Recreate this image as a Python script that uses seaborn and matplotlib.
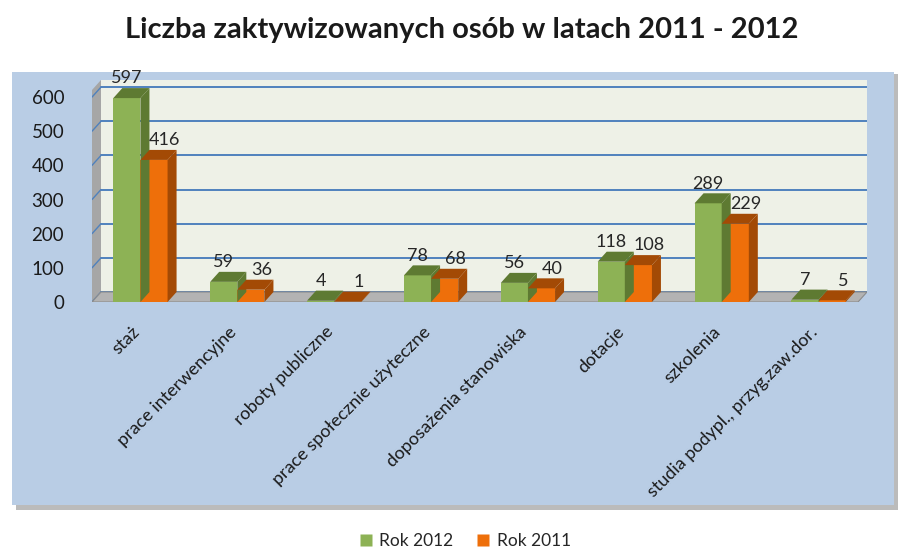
import matplotlib
matplotlib.use("Agg")
import matplotlib.pyplot as plt
import matplotlib.transforms as mtransforms
import seaborn as sns
import pandas as pd
from matplotlib.patches import Polygon, Rectangle
from matplotlib.lines import Line2D

categories = ["staż", "prace interwencyjne", "roboty publiczne",
              "prace społecznie użyteczne", "doposażenia stanowiska",
              "dotacje", "szkolenia", "studia podypl., przyg.zaw.dor."]
rok_2012 = [597, 59, 4, 78, 56, 118, 289, 7]
rok_2011 = [416, 36, 1, 68, 40, 108, 229, 5]
series = ["Rok 2012", "Rok 2011"]
yticks = [0, 100, 200, 300, 400, 500, 600]
title = "Liczba zaktywizowanych osób w latach 2011 - 2012"

df = pd.DataFrame({
    "kategoria": categories * 2,
    "wartosc": rok_2012 + rok_2011,
    "seria": [series[0]] * len(categories) + [series[1]] * len(categories),
})

sns.set_theme(style="white")
plt.rcParams["font.family"] = ["Lato", "DejaVu Sans"]

W, H = 899, 552
fig = plt.figure(figsize=(W / 100, H / 100), dpi=100)
fig.patch.set_facecolor("white")

fig.patches.append(Rectangle((16 / W, 1 - 510 / H), 882 / W, 436 / H,
                             transform=fig.transFigure, facecolor="#8f8f8f",
                             edgecolor="none", alpha=0.6, zorder=0))
fig.patches.append(Rectangle((12 / W, 1 - 505 / H), 882 / W, 433 / H,
                             transform=fig.transFigure, facecolor="#B9CDE5",
                             edgecolor="none", zorder=1))

ax_left, ax_right, ax_top, ax_bot = 92, 867, 80, 302
ax = fig.add_axes([ax_left / W, 1 - ax_bot / H, (ax_right - ax_left) / W,
                   (ax_bot - ax_top) / H])
ax.set_zorder(2)
ax.patch.set_alpha(0)

palette = {"Rok 2012": "#8DB255", "Rok 2011": "#EE6F0A"}
dark = {"Rok 2012": "#5E7A32", "Rok 2011": "#A34A05"}
sns.barplot(data=df, x="kategoria", y="wartosc", hue="seria",
            hue_order=series, palette=palette, width=0.56, ax=ax,
            saturation=1, edgecolor="none", legend=False, zorder=3)
ax.set_xlim(-0.5, len(categories) - 0.5)
ax.set_ylim(0, 650)

px_x = (ax_right - ax_left) / len(categories)
px_y = (ax_bot - ax_top) / 650
dx = 9 / px_x
dy = 10 / px_y

x0, x1 = -0.5, len(categories) - 0.5
ax.add_patch(Polygon([(x0 + dx, dy), (x1, dy), (x1, 650), (x0 + dx, 650)],
                     closed=True, facecolor="#EEF1E7", edgecolor="none", zorder=0))
ax.add_patch(Polygon([(x0, 0), (x0 + dx, dy), (x0 + dx, 650), (x0, 650 - dy)],
                     closed=True, facecolor="#A6A6A6", edgecolor="none", zorder=0.5))
ax.add_patch(Polygon([(x0, 0), (x1 - dx, 0), (x1, dy), (x0 + dx, dy)],
                     closed=True, facecolor="#B3B3B3", edgecolor="#8c8c8c",
                     lw=0.8, zorder=1))
for t in yticks:
    ax.plot([x0 + dx, x1], [t + dy, t + dy], color="#4F81BD", lw=1.4, zorder=0.8)
    ax.plot([x0, x0 + dx], [t, t + dy], color="#4F81BD", lw=1.0, zorder=0.8)

label_shift = {"Rok 2012": 0.0, "Rok 2011": 1.2}
for bars, s, vals in zip(ax.containers, series, [rok_2012, rok_2011]):
    for p, v in zip(bars.patches, vals):
        bx, bw, bh = p.get_x(), p.get_width(), p.get_height()
        top = [(bx, bh), (bx + bw, bh), (bx + bw + dx, bh + dy), (bx + dx, bh + dy)]
        side = [(bx + bw, 0), (bx + bw + dx, dy), (bx + bw + dx, bh + dy), (bx + bw, bh)]
        ax.add_patch(Polygon(top, closed=True, facecolor=dark[s], edgecolor="none", zorder=3.5))
        ax.add_patch(Polygon(side, closed=True, facecolor=dark[s], edgecolor="none", zorder=3.5))
        ax.text(bx + bw / 2 + label_shift[s] * dx, bh + dy + 5, f"{v}",
                ha="center", va="bottom", fontsize=13, color="#262626", zorder=5)

for sp in ax.spines.values():
    sp.set_visible(False)
ax.set_yticks(yticks)
ax.set_yticklabels([str(t) for t in yticks], fontsize=13.5, color="#1a1a1a")
ax.tick_params(axis="y", length=0, pad=20)
ax.tick_params(axis="x", length=0, pad=12)
ax.set_xticks(range(len(categories)))
ax.set_xticklabels(categories, rotation=45, ha="right", rotation_mode="anchor",
                   fontsize=13, color="#1a1a1a")
shift = mtransforms.ScaledTranslation(-9 / 100, -5 / 100, fig.dpi_scale_trans)
for lbl in ax.get_xticklabels():
    lbl.set_transform(lbl.get_transform() + shift)
ax.set_xlabel("")
ax.set_ylabel("")
ax.grid(False)

fig.text(462 / W, 1 - 30 / H, title, ha="center", va="center", fontsize=21,
         fontweight="bold", color="#1a1a1a")

handles = [Line2D([], [], marker="s", linestyle="", markersize=9,
                  markerfacecolor=palette[s], markeredgecolor="none") for s in series]
fig.legend(handles, series, loc="center", bbox_to_anchor=(464 / W, 1 - 541 / H),
           ncol=2, frameon=False, fontsize=12.5, handletextpad=0.3,
           columnspacing=1.2, handlelength=1.0)

fig.savefig("out.png", dpi=100)
